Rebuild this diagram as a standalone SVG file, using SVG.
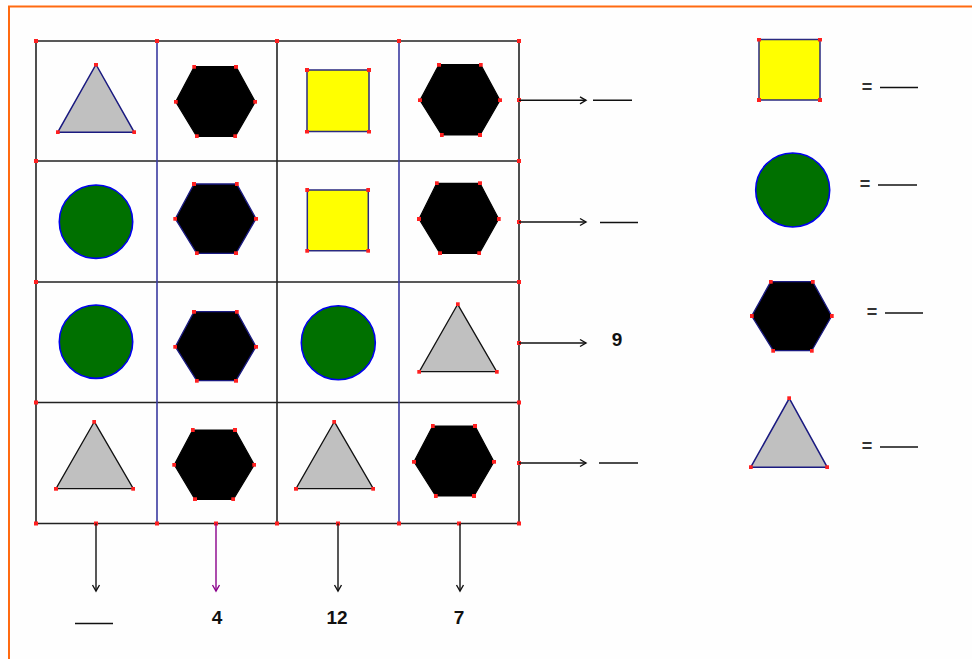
<svg xmlns="http://www.w3.org/2000/svg" width="972" height="659" viewBox="0 0 972 659">
<style>
.grid{stroke:#222;stroke-width:1.6;fill:none}
.vblue{stroke:#3a3aa0;stroke-width:1.6}
.tri{fill:#c0c0c0;stroke:#111;stroke-width:1.3;marker-start:url(#dot);marker-mid:url(#dot)}
.trin{fill:#c0c0c0;stroke:#1a1a80;stroke-width:1.5;marker-start:url(#dot);marker-mid:url(#dot)}
.hex{fill:#000;stroke:#000;stroke-width:1.2;marker-start:url(#dot);marker-mid:url(#dot)}
.hexn{fill:#000;stroke:#1a1a80;stroke-width:1.3;marker-start:url(#dot);marker-mid:url(#dot)}
.sq{fill:#ffff00;stroke:#2a2a80;stroke-width:1.5;marker-start:url(#dot);marker-mid:url(#dot)}
.circ{fill:#007000;stroke:#0000ee;stroke-width:1.6}
.arr{stroke:#111;stroke-width:1.4;fill:none;marker-end:url(#ah)}
.arrp{stroke:#8a008a;stroke-width:1.4;fill:none;marker-end:url(#ahp)}
.blank{stroke:#111;stroke-width:1.6}
.num{font-family:"Liberation Sans",Arial,sans-serif;font-weight:bold;font-size:19px;fill:#111;text-anchor:middle}
.eq{font-family:"Liberation Sans",Arial,sans-serif;font-weight:bold;font-size:18px;fill:#333;text-anchor:middle}
</style>
<defs>
<marker id="dot" markerWidth="4" markerHeight="4" refX="2" refY="2" markerUnits="userSpaceOnUse">
<rect x="0" y="0" width="4" height="4" fill="#ff2020"/>
</marker>
<marker id="ah" markerWidth="10" markerHeight="10" refX="8" refY="5" orient="auto" markerUnits="userSpaceOnUse">
<path d="M2,1.5 L8,5 L2,8.5" fill="none" stroke="#111" stroke-width="1.4"/>
</marker>
<marker id="ahp" markerWidth="10" markerHeight="10" refX="8" refY="5" orient="auto" markerUnits="userSpaceOnUse">
<path d="M2,1.5 L8,5 L2,8.5" fill="none" stroke="#8a008a" stroke-width="1.4"/>
</marker>
<rect id="gd" x="-2" y="-2" width="4" height="4" fill="#ff2020"/>
</defs>
<rect x="0" y="0" width="972" height="659" fill="#fefefe"/>
<path d="M9,700 L9,6.5 L980,6.5" fill="none" stroke="#ff6a10" stroke-width="2"/>

<g id="grid">
<line class="grid" x1="36" y1="41" x2="519" y2="41"/>
<line class="grid" x1="36" y1="161" x2="519" y2="161"/>
<line class="grid" x1="36" y1="282" x2="519" y2="282"/>
<line class="grid" x1="36" y1="402.5" x2="519" y2="402.5"/>
<line class="grid" x1="36" y1="523.5" x2="519" y2="523.5"/>
<line class="grid" x1="36" y1="41" x2="36" y2="523.5"/>
<line class="grid" x1="277" y1="41" x2="277" y2="523.5"/>
<line class="grid" x1="519" y1="41" x2="519" y2="523.5"/>
<line class="vblue" x1="157" y1="41" x2="157" y2="523.5"/>
<line class="vblue" x1="399" y1="41" x2="399" y2="523.5"/>
<use href="#gd" x="36" y="41"/><use href="#gd" x="157" y="41"/><use href="#gd" x="277" y="41"/><use href="#gd" x="399" y="41"/><use href="#gd" x="519" y="41"/>
<use href="#gd" x="36" y="161"/><use href="#gd" x="36" y="282"/><use href="#gd" x="36" y="402.5"/><use href="#gd" x="36" y="523.5"/>
<use href="#gd" x="519" y="100"/><use href="#gd" x="519" y="161"/><use href="#gd" x="519" y="222"/><use href="#gd" x="519" y="282"/><use href="#gd" x="519" y="343"/><use href="#gd" x="519" y="402.5"/><use href="#gd" x="519" y="463"/><use href="#gd" x="519" y="523.5"/>
<use href="#gd" x="96" y="523.5"/><use href="#gd" x="157" y="523.5"/><use href="#gd" x="216" y="523.5"/><use href="#gd" x="277" y="523.5"/><use href="#gd" x="338" y="523.5"/><use href="#gd" x="399" y="523.5"/><use href="#gd" x="459" y="523.5"/>
</g>

<g id="cell-1-1"><polygon class="trin" points="96,64.5 134.3,132.3 57.7,132.3"/></g>
<g id="cell-1-2"><polygon class="hex" points="194.3,66.7 236,66.7 255.3,101.7 235.3,136.3 196.7,136.3 175.7,101.7"/></g>
<g id="cell-1-3"><polygon class="sq" points="307,70 369,70 369,131.5 307,131.5"/></g>
<g id="cell-1-4"><polygon class="hex" points="439,64.7 480.7,64.7 500,100.3 480,135 441.7,135 420,100.3"/></g>

<g id="cell-2-1"><circle class="circ" cx="96" cy="221.7" r="36.7"/></g>
<g id="cell-2-2"><polygon class="hexn" points="194,184 236.7,184 256,218.7 236,253.3 196.7,253.3 175.3,218.7"/></g>
<g id="cell-2-3"><polygon class="sq" points="307.3,190 368.3,190 368.3,250.7 307.3,250.7"/></g>
<g id="cell-2-4"><polygon class="hex" points="436.7,183.3 480,183.3 498.7,219 479.3,253.3 440,253.3 419,219"/></g>

<g id="cell-3-1"><circle class="circ" cx="96" cy="341.7" r="36.7"/></g>
<g id="cell-3-2"><polygon class="hexn" points="194,311.7 236.7,311.7 256,346.7 236,380.7 196.7,380.7 175.3,346.7"/></g>
<g id="cell-3-3"><circle class="circ" cx="338.3" cy="342.7" r="37"/></g>
<g id="cell-3-4"><polygon class="tri" points="457.7,304.3 496.7,371.7 419.3,371.7"/></g>

<g id="cell-4-1"><polygon class="tri" points="94.3,421.7 133.3,488.7 56,488.7"/></g>
<g id="cell-4-2"><polygon class="hex" points="192.7,430 235,430 254.3,464.7 233.3,499.3 195,499.3 174.3,464.7"/></g>
<g id="cell-4-3"><polygon class="tri" points="334.3,421.7 373.3,488.7 296,488.7"/></g>
<g id="cell-4-4"><polygon class="hex" points="432.7,426 475,426 494,461.7 474,496 435.7,496 414,461.7"/></g>

<g id="connectors">
<line class="arr" x1="519" y1="100.3" x2="586" y2="100.3"/>
<line class="arr" x1="519" y1="222" x2="586" y2="222"/>
<line class="arr" x1="519" y1="343" x2="586" y2="343"/>
<line class="arr" x1="519" y1="463" x2="586" y2="463"/>
<line class="arr" x1="96" y1="523.5" x2="96" y2="591"/>
<line class="arrp" x1="216" y1="523.5" x2="216" y2="591"/>
<line class="arr" x1="338" y1="523.5" x2="338" y2="591"/>
<line class="arr" x1="460" y1="523.5" x2="460" y2="591"/>
</g>

<g id="row-results">
<line class="blank" x1="593" y1="100.3" x2="632" y2="100.3"/>
<line class="blank" x1="600" y1="222.5" x2="638" y2="222.5"/>
<text class="num" x="617" y="346">9</text>
<line class="blank" x1="599" y1="463" x2="638" y2="463"/>
</g>

<g id="col-results">
<line class="blank" x1="75" y1="623.5" x2="113" y2="623.5"/>
<text class="num" x="217" y="624">4</text>
<text class="num" x="337" y="624">12</text>
<text class="num" x="459" y="624">7</text>
</g>

<g id="legend-square">
<polygon class="sq" points="759,39.5 820,39.5 820,100 759,100"/>
<text class="eq" x="867" y="93">=</text>
<line class="blank" x1="880" y1="87.5" x2="918" y2="87.5"/>
</g>
<g id="legend-circle">
<circle class="circ" cx="792.7" cy="190" r="37"/>
<text class="eq" x="865" y="190">=</text>
<line class="blank" x1="878" y1="185" x2="917" y2="185"/>
</g>
<g id="legend-hexagon">
<polygon class="hexn" points="770.7,281.7 812.7,281.7 831.7,316 811.7,350.7 773.3,350.7 751.7,316"/>
<text class="eq" x="872" y="318">=</text>
<line class="blank" x1="885" y1="313" x2="923" y2="313"/>
</g>
<g id="legend-triangle">
<polygon class="trin" points="789.3,398.3 827.3,467.3 750.7,467.3"/>
<text class="eq" x="867" y="452">=</text>
<line class="blank" x1="880" y1="447" x2="918" y2="447"/>
</g>
</svg>
